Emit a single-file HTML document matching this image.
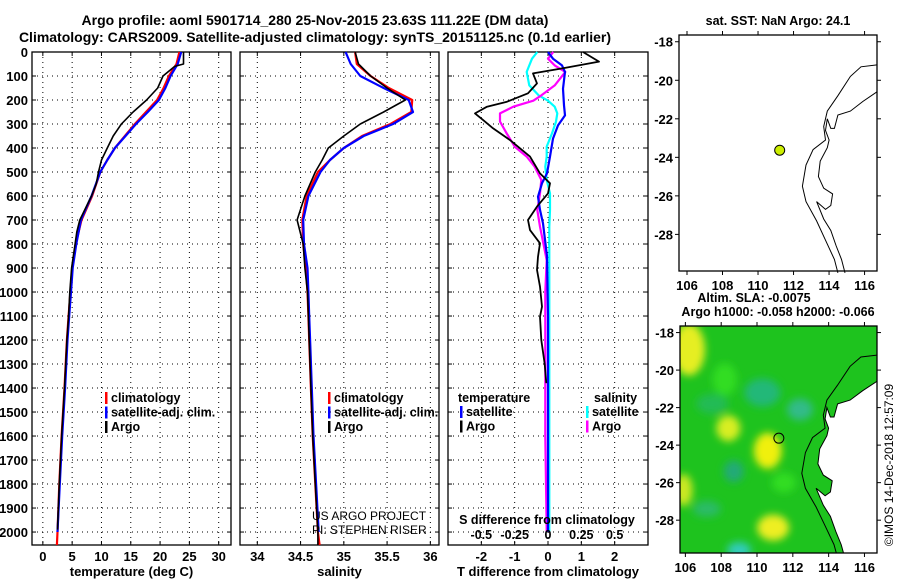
<!DOCTYPE html>
<html><head><meta charset="utf-8"><style>
body{margin:0;background:#fff}
svg{display:block;font-family:"Liberation Sans",sans-serif;font-weight:bold}
</style></head><body>
<svg id="c" width="900" height="580" viewBox="0 0 900 580">
<g id="titles">
<text x="315" y="25" text-anchor="middle" font-size="14">Argo profile: aoml 5901714_280 25-Nov-2015 23.63S 111.22E (DM data)</text>
<text x="315" y="42" text-anchor="middle" font-size="14">Climatology: CARS2009. Satellite-adjusted climatology: synTS_20151125.nc (0.1d earlier)</text>
</g>
</svg>
<script>
const depths=[0,50,60,100,150,200,250,300,350,400,450,500,550,600,700,750,800,900,1000,1100,1200,1400,1600,1800,1990];
const tArgo=[24.0,24.0,22.5,20.5,19.6,17.7,15.4,13.4,12.0,11.0,10.0,9.5,9.1,8.3,6.3,5.8,5.5,4.9,4.6,4.4,4.1,3.7,3.2,2.8,2.5];
const climDepths=[0,50,100,150,200,250,300,350,400,450,500,600,700,800,900,1000,1100,1200,1400,1600,1800,2000,2054];
const tClim=[23.3,22.8,21.5,20.6,19.5,17.6,15.7,14.0,12.3,11.0,9.8,8.4,6.6,5.6,5.0,4.7,4.4,4.1,3.7,3.2,2.8,2.5,2.4];
const tSat=[23.6,23.0,21.8,20.9,19.8,17.9,15.9,14.1,12.3,11.0,9.8,8.3,6.5,5.7,5.1,4.8,4.5,4.2,3.8,3.3,2.9,2.5,null];
const sArgo=[35.13,35.17,35.31,35.5,35.71,35.46,35.19,35.0,34.82,34.75,34.67,34.55,34.46,34.53,34.55,34.58,34.59,34.6,34.62,34.64,34.67,34.7,34.7];
const sClim=[35.13,35.15,35.31,35.52,35.79,35.78,35.54,35.21,35.0,34.84,34.7,34.57,34.52,34.53,34.56,34.58,34.59,34.6,34.62,34.64,34.67,34.7,34.72];
const sSat=[35.02,35.08,35.19,35.46,35.75,35.8,35.57,35.23,35.0,34.84,34.73,34.59,34.53,34.54,34.58,34.59,34.6,34.61,34.63,34.65,34.68,34.71,null];
const dDepths=[0,40,68,89,131,172,207,228,256,283,318,367,436,506,547,589,644,700,742,797,853,908,978,1061,1103,1200,1300,1380];
const dtArgo=[1.05,1.53,0.45,-0.45,-0.33,-0.6,-1.23,-1.83,-2.19,-1.95,-1.65,-1.14,-0.54,-0.24,0.06,0.0,-0.33,-0.6,-0.54,-0.24,-0.3,-0.33,-0.24,-0.18,-0.24,-0.2,-0.1,-0.05];
const satDepths=[0,28,56,83,153,222,264,306,361,436,506,547,603,658,714,850,1100,1400,1700,2000];
const dtSat=[0,0.15,0.42,0.51,0.45,0.48,0.51,0.3,0.15,0.06,-0.03,-0.18,-0.3,-0.24,-0.15,-0.03,0,0,0,0];
const sdDepths=[0,28,56,83,139,181,203,228,256,290,339,394,436,478,533,589,658,728,867,1000,1300,1600,2000];
const dsArgo=[0.04,0,0.05,0.13,0.05,-0.05,-0.11,-0.26,-0.36,-0.36,-0.31,-0.25,-0.16,-0.1,-0.05,-0.06,-0.08,-0.06,-0.01,-0.02,-0.02,-0.02,-0.01];
const dsSat=[-0.08,-0.12,-0.14,-0.16,-0.14,-0.07,0,0.05,0.07,0.06,0.03,-0.01,-0.01,-0.02,-0.01,0.015,0.015,0.01,0.01,0.01,0.01,0.01,0.01];
const depthTicks=[0,100,200,300,400,500,600,700,800,900,1000,1100,1200,1300,1400,1500,1600,1700,1800,1900,2000];
const tTicks=[0,5,10,15,20,25,30];
const sTicks=[34,34.5,35,35.5,36];
const sTickLabels=["34","34.5","35","35.5","36"];
const dtTicks=[-2,-1,0,1,2];
const dsTickLabels=["-0.5","-0.25","0","0.25","0.5"];
const lonTicks=[106,108,110,112,114,116];
const latTicks=[-18,-20,-22,-24,-26,-28];
const argoLon=111.22, argoLat=-23.63;

const NS='http://www.w3.org/2000/svg';
const svg=document.getElementById('c');
function el(tag,attrs,parent){const e=document.createElementNS(NS,tag);for(const k in attrs)e.setAttribute(k,attrs[k]);(parent||svg).appendChild(e);return e;}
const Y0=52,Y1=545,DMAX=2054;
const yD=d=>Y0+(Y1-Y0)*d/DMAX;
const P1={x0:32,x1:231,v0:-1.85,v1:32.1};
const P2={x0:240,x1:439,v0:33.8,v1:36.1};
const P3={x0:448,x1:648,v0:-3,v1:3};
const xs=(P,v)=>P.x0+(P.x1-P.x0)*(v-P.v0)/(P.v1-P.v0);

const yl=el('g',{});

depthTicks.forEach(d=>{const t=el('text',{x:28,y:yD(d)+5,'text-anchor':'end','font-size':13},yl);t.textContent=d;});

function panel(P,name,ticks,labels,xtitle){
  const g=el('g',{});
  
  ticks.forEach((v,i)=>{
    const x=xs(P,v);
    el('line',{x1:x,x2:x,y1:Y0,y2:Y1,stroke:'#000','stroke-width':1,'stroke-dasharray':'1,4'},g);
    el('line',{x1:x,x2:x,y1:Y1,y2:Y1-4,stroke:'#000'},g);
    el('line',{x1:x,x2:x,y1:Y0,y2:Y0+4,stroke:'#000'},g);
    const t=el('text',{x:x,y:561,'text-anchor':'middle','font-size':13},g);t.textContent=labels[i];
  });
  depthTicks.forEach(d=>{const y=yD(d);
    el('line',{x1:P.x0,x2:P.x1,y1:y,y2:y,stroke:'#000','stroke-width':1,'stroke-dasharray':'1,4'},g);
    el('line',{x1:P.x0,x2:P.x0+4,y1:y,y2:y,stroke:'#000'},g);
    el('line',{x1:P.x1,x2:P.x1-4,y1:y,y2:y,stroke:'#000'},g);
  });
  el('rect',{x:P.x0,y:Y0,width:P.x1-P.x0,height:Y1-Y0,fill:'none',stroke:'#000','stroke-width':1.3},g);
  const t=el('text',{x:(P.x0+P.x1)/2,y:576,'text-anchor':'middle','font-size':13},g);t.textContent=xtitle;
  return g;
}
function line(P,vals,ds,color,w,name,parent){
  let pts=[];vals.forEach((v,i)=>{if(v!==null&&i<ds.length)pts.push(xs(P,v).toFixed(1)+','+yD(ds[i]).toFixed(1));});
  const p=el('polyline',{points:pts.join(' '),fill:'none',stroke:color,'stroke-width':w,'stroke-linejoin':'round'},parent);
  
}
function legend(x,y,items,parent){
  items.forEach((it,i)=>{
    const yy=y+i*14.5;
    el('rect',{x:x,y:yy-10,width:2.5,height:12,fill:it[1]},parent);
    const t=el('text',{x:x+6,y:yy,'font-size':12.5},parent);t.textContent=it[0];
  });
}
const g1=panel(P1,'temperature-panel',tTicks,tTicks.map(String),'temperature (deg C)');
line(P1,tClim,climDepths,'#f00',2.2,'temp-climatology-line',g1);
line(P1,tSat,climDepths,'#00f',2.2,'temp-satellite-line',g1);
line(P1,tArgo,depths,'#000',1.6,'temp-argo-line',g1);
const lg1=el('g',{},g1);
legend(105,402,[['climatology','#f00'],['satellite-adj. clim.','#00f'],['Argo','#000']],lg1);

const g2=panel(P2,'salinity-panel',sTicks,sTickLabels,'salinity');
line(P2,sClim,climDepths,'#f00',2.2,'sal-climatology-line',g2);
line(P2,sSat,climDepths,'#00f',2.2,'sal-satellite-line',g2);
line(P2,sArgo,climDepths.slice(0,23),'#000',1.6,'sal-argo-line',g2);
const lg2=el('g',{},g2);
legend(328,402,[['climatology','#f00'],['satellite-adj. clim.','#00f'],['Argo','#000']],lg2);
const cr=el('text',{x:312,y:520,'font-size':12,'font-weight':'normal'},g2);cr.textContent='US ARGO PROJECT';

const cr2=el('text',{x:312,y:534,'font-size':12,'font-weight':'normal'},g2);cr2.textContent='PI: STEPHEN RISER';


const g3=panel(P3,'difference-panel',dtTicks,dtTicks.map(String),'T difference from climatology');
const PS={x0:448,x1:648,v0:-0.75,v1:0.75};
line(PS,dsSat,sdDepths,'#0ff',2.2,'sal-diff-satellite-line',g3);
line(PS,dsArgo,sdDepths,'#f0f',2.2,'sal-diff-argo-line',g3);
line(P3,dtSat,satDepths,'#00f',2.2,'temp-diff-satellite-line',g3);
line(P3,dtArgo,dDepths,'#000',1.8,'temp-diff-argo-line',g3);
const sdt=el('text',{x:547,y:524,'text-anchor':'middle','font-size':12.5},g3);sdt.textContent='S difference from climatology';

dsTickLabels.forEach((l,i)=>{const t=el('text',{x:xs(P3,dtTicks[i]),y:539,'text-anchor':'middle','font-size':12.5},g3);t.textContent=l;});
const lg3=el('g',{},g3);
const th=el('text',{x:458,y:402,'font-size':12.5},lg3);th.textContent='temperature';
const sh=el('text',{x:594,y:402,'font-size':12.5},lg3);sh.textContent='salinity';
legend(460,416,[['satellite','#00f'],['Argo','#000']],lg3);
legend(586,416,[['satellite','#0ff'],['Argo','#f0f']],lg3);

const coastOuter=[[116.7,-19.2],[115.8,-19.3],[115.2,-19.8],[114.5,-20.8],[113.9,-21.6],[113.7,-22.4],[113.8,-23.1],[113.1,-23.6],[112.7,-24.4],[112.5,-25.5],[112.7,-26.3],[113.3,-27.3],[113.8,-28.3],[114.3,-29.3],[114.5,-30]];
const coastInner=[[116.7,-20.6],[115.9,-21.1],[115.2,-21.6],[114.5,-21.8],[114.3,-22.5],[114.1,-22.5],[113.9,-22.0],[113.8,-22.6],[114.0,-23.1],[113.9,-23.5],[113.5,-24.2],[113.4,-25],[113.7,-25.6],[114.2,-25.9],[114.1,-26.5],[113.8,-26.7],[113.3,-26.3],[113.7,-27.2],[114.1,-27.8],[114.4,-28.6],[114.7,-29.3],[114.9,-30]];
function map(M,name){
  const g=el('g',{});
  M.x=v=>M.x0+(M.x1-M.x0)*(v-M.l0)/(M.l1-M.l0);
  M.y=v=>M.y0+(M.y1-M.y0)*(M.a0-v)/(M.a0-M.a1);
  return g;
}
const M1={x0:679,x1:877,y0:35,y1:271,l0:105.55,l1:116.7,a0:-17.65,a1:-29.9};
const m1=map(M1,'sst-map');
const pth=(M,arr)=>arr.map(p=>M.x(p[0]).toFixed(1)+','+M.y(p[1]).toFixed(1)).join(' ');
el('polyline',{points:pth(M1,coastOuter),fill:'none',stroke:'#000','stroke-width':1},m1);
el('polyline',{points:pth(M1,coastInner),fill:'none',stroke:'#000','stroke-width':1},m1);
const dot=el('circle',{cx:M1.x(argoLon),cy:M1.y(argoLat),r:5,fill:'#ccee00',stroke:'#000','stroke-width':1},m1);


const M2={x0:680,x1:877,y0:326,y1:553,l0:105.7,l1:116.7,a0:-17.65,a1:-29.75};
const m2=map(M2,'sla-map');
const defs=el('defs',{});
const cp=el('clipPath',{id:'clip2'},defs);el('rect',{x:M2.x0,y:M2.y0,width:M2.x1-M2.x0,height:M2.y1-M2.y0},cp);
const f=el('filter',{id:'bl',x:'-50%',y:'-50%',width:'200%',height:'200%'},defs);el('feGaussianBlur',{stdDeviation:4},f);
const field=el('g',{'clip-path':'url(#clip2)'},m2);
el('rect',{x:M2.x0,y:M2.y0,width:M2.x1-M2.x0,height:M2.y1-M2.y0,fill:'#1ec31e'},field);
const blobs=el('g',{filter:'url(#bl)'},field);
[[106.2,-18.9,16,26,'#e6ee22'],[108.4,-23.1,12,13,'#d8ee22'],[110.6,-24.3,14,18,'#f0f010'],[110.9,-28.4,16,13,'#eeee22'],[105.9,-26.4,9,16,'#cce822'],
 [110.3,-21.2,18,14,'#20b878'],[112.4,-22.1,13,11,'#30bb88'],[108.7,-25.4,10,11,'#22aa77'],[109,-29.6,12,8,'#33ccbb'],[107.2,-27.4,14,8,'#2cbb66'],[107.5,-21.8,16,10,'#22bb55'],[108.2,-20.5,12,16,'#33dd22'],[111.5,-26,12,10,'#33dd22']]
.forEach(b=>el('ellipse',{cx:M2.x(b[0]),cy:M2.y(b[1]),rx:b[2],ry:b[3],fill:b[4]},blobs));
const land=coastInner.concat([[117,-30],[117,-20.6]]);
el('polygon',{points:pth(M2,land),fill:'#fff'},field);
el('polyline',{points:pth(M2,coastOuter),fill:'none',stroke:'#000','stroke-width':1},field);
el('polyline',{points:pth(M2,coastInner),fill:'none',stroke:'#000','stroke-width':1},field);
const c2=el('circle',{cx:M2.x(argoLon),cy:M2.y(argoLat),r:5,fill:'none',stroke:'#000','stroke-width':1},m2);


[[M1,m1],[M2,m2]].forEach(([M,g])=>{
  el('rect',{x:M.x0,y:M.y0,width:M.x1-M.x0,height:M.y1-M.y0,fill:'none',stroke:'#000','stroke-width':1.3},g);
  lonTicks.forEach(l=>{const x=M.x(l);el('line',{x1:x,x2:x,y1:M.y0,y2:M.y0-4,stroke:'#000'},g);el('line',{x1:x,x2:x,y1:M.y1,y2:M.y1+4,stroke:'#000'},g);
    const t=el('text',{x:x,y:M.y1+19,'text-anchor':'middle','font-size':13},g);t.textContent=l;});
  latTicks.forEach(a=>{const y=M.y(a);el('line',{x1:M.x0,x2:M.x0-4,y1:y,y2:y,stroke:'#000'},g);el('line',{x1:M.x1,x2:M.x1+4,y1:y,y2:y,stroke:'#000'},g);
    const t=el('text',{x:M.x0-6,y:y+5,'text-anchor':'end','font-size':13},g);t.textContent=a;});
});
const mt=[['sat. SST: NaN Argo: 24.1',778,25,'sst-map-title'],['Altim. SLA: -0.0075',754,302,'sla-map-title'],['Argo h1000: -0.058 h2000: -0.066',778,316,'argo-height-title']];
mt.forEach(m=>{const t=el('text',{x:m[1],y:m[2],'text-anchor':'middle','font-size':12.5});t.textContent=m[0];});
const cp2=el('text',{x:0,y:0,'text-anchor':'middle','font-size':12,'font-weight':'normal',transform:'translate(893,465) rotate(-90)'});
cp2.textContent='©IMOS 14-Dec-2018 12:57:09';

</script>
</body></html>
